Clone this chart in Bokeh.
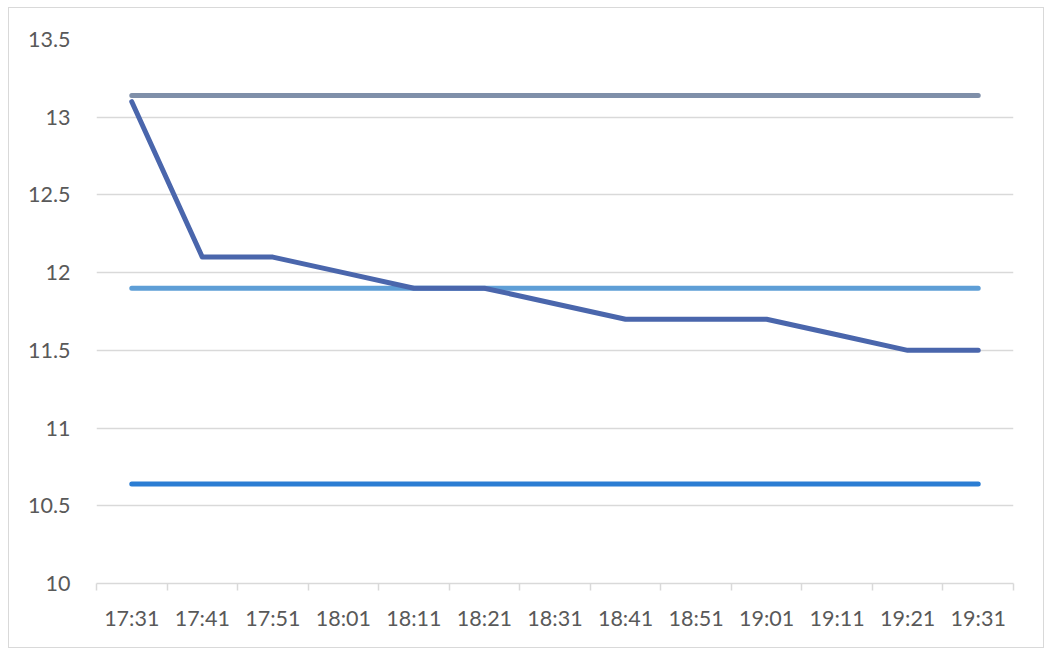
from bokeh.plotting import figure
from bokeh.models import FixedTicker, Range1d
from bokeh.embed import file_html
from bokeh.resources import INLINE

categories = ["17:31", "17:41", "17:51", "18:01", "18:11", "18:21", "18:31",
              "18:41", "18:51", "19:01", "19:11", "19:21", "19:31"]
measured = [13.1, 12.1, 12.1, 12.0, 11.9, 11.9, 11.8, 11.7, 11.7, 11.7, 11.6, 11.5, 11.5]
upper_limit = 13.14
center_line = 11.9
lower_limit = 10.64
y_ticks = [10, 10.5, 11, 11.5, 12, 12.5, 13, 13.5]

n = len(categories)
idx = list(range(n))
bounds = [i - 0.5 for i in range(n + 1)]

p = figure(width=1036, height=641, output_backend="svg", toolbar_location=None,
           x_range=Range1d(-0.5, n - 0.5), y_range=Range1d(y_ticks[0], y_ticks[-1]),
           min_border_left=87, min_border_right=32, min_border_top=31, min_border_bottom=66)
p.styles = {"border": "1.5px solid #d9d9d9", "box-sizing": "border-box",
            "margin-left": "8px", "margin-top": "7px"}
p.outline_line_color = None
p.background_fill_color = "white"
p.border_fill_color = "white"

# x axis
p.xaxis.ticker = FixedTicker(ticks=idx, minor_ticks=bounds)
p.xaxis.major_label_overrides = {i: c for i, c in enumerate(categories)}
p.xaxis.major_tick_line_color = None
p.xaxis.minor_tick_line_color = "#d9d9d9"
p.xaxis.minor_tick_line_width = 1.5
p.xaxis.minor_tick_out = 7
p.xaxis.minor_tick_in = 0
p.xaxis.axis_line_color = "#d9d9d9"
p.xaxis.axis_line_width = 1.5
p.xaxis.major_label_text_font = "Lato"
p.xaxis.major_label_text_font_size = "21.5px"
p.xaxis.major_label_text_color = "#595959"
p.xaxis.major_label_standoff = 14

# y axis
p.yaxis.ticker = FixedTicker(ticks=y_ticks)
p.yaxis.major_label_overrides = {t: (f"{t:g}") for t in y_ticks}
p.yaxis.axis_line_color = None
p.yaxis.major_tick_line_color = None
p.yaxis.minor_tick_line_color = None
p.yaxis.major_label_text_font = "Lato"
p.yaxis.major_label_text_font_size = "21.5px"
p.yaxis.major_label_text_color = "#595959"
p.yaxis.major_label_standoff = 20

p.xgrid.grid_line_color = None
p.ygrid.ticker = FixedTicker(ticks=y_ticks[1:])
p.ygrid.grid_line_color = "#d9d9d9"
p.ygrid.grid_line_width = 1.5

lw = 5
p.line(idx, [upper_limit] * n, line_color="#7f8fa9", line_width=lw, line_cap="round")
p.line(idx, [center_line] * n, line_color="#5e9ed6", line_width=lw, line_cap="round")
p.line(idx, [lower_limit] * n, line_color="#2b7dd3", line_width=lw, line_cap="round")
p.line(idx, measured, line_color="#4a66ac", line_width=lw, line_cap="round", line_join="round")

open("out.html", "w").write(file_html(p, INLINE))
